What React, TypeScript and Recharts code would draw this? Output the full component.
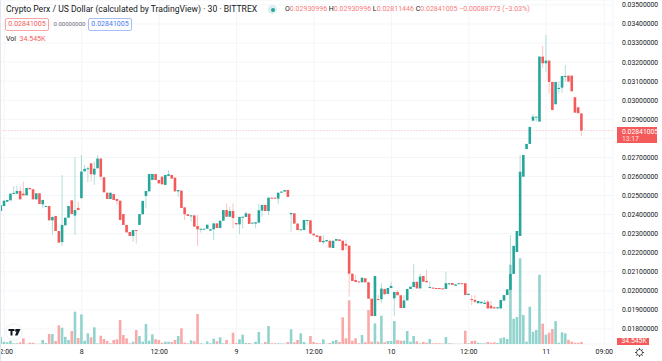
import { Bar, CartesianGrid, Cell, ComposedChart, ReferenceLine, XAxis, YAxis } from "recharts";

const UP = "#26a69a";
const DOWN = "#f55a5a";
const FONT = "Roboto, sans-serif";

const opens = [
  0.02419, 0.02445, 0.02468, 0.02475, 0.02508, 0.0251, 0.02524, 0.0251, 0.02501, 0.0254,
  0.02533, 0.0248, 0.02512, 0.02454, 0.0244, 0.02445, 0.0237, 0.02393, 0.02314, 0.02256,
  0.02344, 0.02384, 0.02475, 0.02395, 0.02435, 0.02486, 0.02627, 0.02638, 0.02669, 0.0261,
  0.02643, 0.02694, 0.02596, 0.02515, 0.02482, 0.02508, 0.02482, 0.02473, 0.02403, 0.02346,
  0.02309, 0.02288, 0.02319, 0.02346, 0.02402, 0.02498, 0.02522, 0.02582, 0.02613, 0.02582,
  0.02599, 0.02556, 0.02603, 0.02608, 0.02594, 0.02522, 0.02526, 0.02438, 0.02402, 0.02393,
  0.02396, 0.0234, 0.02321, 0.02321, 0.02326, 0.02316, 0.02323, 0.02354, 0.0233, 0.02368,
  0.02424, 0.02389, 0.02419, 0.02356, 0.02349, 0.02386, 0.02388, 0.02405, 0.02353, 0.02353,
  0.02358, 0.02421, 0.02451, 0.02419, 0.02489, 0.02489, 0.02484, 0.02515, 0.02521, 0.02529,
  0.02402, 0.02407, 0.02353, 0.02318, 0.02319, 0.02367, 0.0237, 0.023, 0.02291, 0.02288,
  0.02255, 0.0226, 0.02263, 0.02225, 0.02263, 0.0227, 0.02263, 0.02246, 0.02237, 0.0209,
  0.02057, 0.0205, 0.02045, 0.02066, 0.02045, 0.01959, 0.01868, 0.01957, 0.01956, 0.0201,
  0.01984, 0.02015, 0.01961, 0.01994, 0.01977, 0.0191, 0.0195, 0.0201, 0.0202, 0.02048,
  0.02013, 0.02078, 0.02052, 0.02015, 0.02017, 0.02015, 0.02015, 0.02013, 0.0201, 0.02034,
  0.02041, 0.02027, 0.02036, 0.0204, 0.0204, 0.01978, 0.01957, 0.01952, 0.01935, 0.01935,
  0.01931, 0.01943, 0.01922, 0.01914, 0.01908, 0.01908, 0.01949, 0.01978, 0.02005, 0.02089,
  0.02204, 0.02288, 0.02599, 0.02744, 0.02771, 0.02893, 0.02911, 0.02888, 0.03229, 0.03194,
  0.03208, 0.03096, 0.02979, 0.03059, 0.03066, 0.03124, 0.03129, 0.03129, 0.03016, 0.02963,
  0.02930996,
];
const highs = [
  0.02449, 0.02473, 0.02477, 0.0251, 0.0255, 0.0255, 0.02547, 0.02573, 0.0254, 0.0254,
  0.02533, 0.02512, 0.02512, 0.02477, 0.02445, 0.02445, 0.02388, 0.02393, 0.02314, 0.02608,
  0.02384, 0.02445, 0.02475, 0.02701, 0.02468, 0.02713, 0.0266, 0.02652, 0.02669, 0.02678,
  0.02713, 0.02695, 0.02596, 0.02515, 0.02515, 0.02508, 0.02482, 0.02473, 0.02403, 0.02346,
  0.02309, 0.02319, 0.02319, 0.02403, 0.02472, 0.02524, 0.02613, 0.02613, 0.02613, 0.02582,
  0.02599, 0.02608, 0.02634, 0.02608, 0.02594, 0.02529, 0.02526, 0.02438, 0.02402, 0.02396,
  0.02396, 0.02398, 0.02326, 0.02326, 0.02347, 0.02323, 0.02354, 0.02354, 0.02368, 0.02424,
  0.02459, 0.02442, 0.02459, 0.02356, 0.02388, 0.02389, 0.02416, 0.02405, 0.02358, 0.0236,
  0.02456, 0.02451, 0.02451, 0.02489, 0.02489, 0.02489, 0.02515, 0.02521, 0.02529, 0.02529,
  0.02409, 0.02407, 0.02353, 0.02323, 0.02372, 0.02372, 0.0237, 0.023, 0.02291, 0.02288,
  0.02293, 0.02267, 0.02263, 0.02263, 0.02272, 0.0227, 0.02263, 0.02267, 0.02237, 0.0209,
  0.02083, 0.0205, 0.02069, 0.02066, 0.02045, 0.01959, 0.02078, 0.01978, 0.0204, 0.0201,
  0.02015, 0.02048, 0.01994, 0.02001, 0.01977, 0.01978, 0.0201, 0.02022, 0.02141, 0.02048,
  0.02092, 0.02078, 0.0211, 0.02048, 0.02017, 0.02015, 0.02015, 0.02013, 0.02101, 0.0204,
  0.02041, 0.02034, 0.0204, 0.0204, 0.0204, 0.01985, 0.01978, 0.01978, 0.01947, 0.01943,
  0.01952, 0.01952, 0.01947, 0.01914, 0.01914, 0.01952, 0.01978, 0.02008, 0.02293, 0.02236,
  0.02314, 0.02713, 0.02713, 0.02771, 0.0286, 0.02927, 0.02914, 0.03229, 0.03285, 0.03343,
  0.03208, 0.03096, 0.03096, 0.03098, 0.03127, 0.03185, 0.03129, 0.03129, 0.03016, 0.02963,
  0.02930996,
];
const lows = [
  0.02416, 0.02445, 0.02468, 0.02475, 0.02508, 0.02507, 0.0248, 0.02501, 0.02501, 0.02533,
  0.0248, 0.0248, 0.02456, 0.02433, 0.0244, 0.0237, 0.02293, 0.02314, 0.02253, 0.02235,
  0.02344, 0.02384, 0.02403, 0.02293, 0.02424, 0.02486, 0.02626, 0.02568, 0.02573, 0.02556,
  0.02643, 0.02582, 0.02517, 0.02482, 0.02482, 0.02477, 0.02451, 0.02372, 0.02346, 0.02307,
  0.02288, 0.02258, 0.02249, 0.02346, 0.02402, 0.02433, 0.02522, 0.02582, 0.02582, 0.02564,
  0.02559, 0.02556, 0.02603, 0.02589, 0.02522, 0.02494, 0.02435, 0.02372, 0.02393, 0.02363,
  0.02337, 0.02235, 0.02305, 0.02321, 0.02326, 0.02316, 0.02267, 0.0233, 0.0233, 0.02368,
  0.02389, 0.02389, 0.02328, 0.02349, 0.02297, 0.02328, 0.02388, 0.02351, 0.02353, 0.02328,
  0.02358, 0.02389, 0.02419, 0.02398, 0.02484, 0.02484, 0.02454, 0.02515, 0.02521, 0.02493,
  0.02311, 0.02353, 0.02319, 0.02318, 0.02319, 0.02346, 0.023, 0.02291, 0.02283, 0.02256,
  0.02244, 0.0226, 0.02227, 0.02225, 0.02263, 0.02262, 0.02213, 0.02215, 0.0197, 0.02052,
  0.02047, 0.02045, 0.02045, 0.02045, 0.01959, 0.01868, 0.01868, 0.01952, 0.01935, 0.01982,
  0.01984, 0.02015, 0.0187, 0.01977, 0.0191, 0.0191, 0.0195, 0.0201, 0.0202, 0.02013,
  0.02013, 0.02048, 0.02045, 0.02015, 0.02013, 0.02012, 0.02012, 0.0201, 0.0201, 0.02034,
  0.02031, 0.02027, 0.02036, 0.02036, 0.01978, 0.01978, 0.01926, 0.01935, 0.01935, 0.01935,
  0.01931, 0.01908, 0.01908, 0.01908, 0.01908, 0.01908, 0.01949, 0.01978, 0.02005, 0.02089,
  0.02204, 0.02288, 0.02599, 0.02744, 0.02771, 0.02888, 0.02888, 0.02888, 0.03168, 0.0315,
  0.03037, 0.02949, 0.02979, 0.03037, 0.0304, 0.03098, 0.03098, 0.03047, 0.02935, 0.02932,
  0.02811446,
];
const closes = [
  0.02449, 0.02473, 0.02477, 0.0251, 0.02514, 0.02524, 0.0248, 0.02501, 0.0254, 0.02533,
  0.0248, 0.02512, 0.02456, 0.02477, 0.02445, 0.0237, 0.02388, 0.02314, 0.02253, 0.02346,
  0.02384, 0.02445, 0.02403, 0.02424, 0.02424, 0.02626, 0.0264, 0.02643, 0.02612, 0.02641,
  0.02694, 0.02599, 0.02517, 0.02482, 0.02515, 0.02477, 0.02472, 0.02372, 0.02346, 0.02307,
  0.02288, 0.02319, 0.02314, 0.02403, 0.02472, 0.02524, 0.02613, 0.02613, 0.02582, 0.02564,
  0.02559, 0.02608, 0.02612, 0.02589, 0.02522, 0.02529, 0.02435, 0.02402, 0.02393, 0.02396,
  0.02337, 0.02323, 0.02326, 0.02326, 0.02347, 0.02323, 0.02354, 0.0233, 0.02368, 0.02424,
  0.02389, 0.02419, 0.02382, 0.02349, 0.02388, 0.02389, 0.02407, 0.02351, 0.02358, 0.0236,
  0.02423, 0.02451, 0.02419, 0.02489, 0.02484, 0.02484, 0.02515, 0.02521, 0.02529, 0.02493,
  0.02409, 0.02353, 0.02319, 0.02323, 0.02372, 0.02372, 0.023, 0.02291, 0.02283, 0.02256,
  0.02262, 0.02267, 0.02227, 0.02263, 0.02272, 0.02262, 0.02213, 0.02237, 0.0209, 0.02052,
  0.02047, 0.02045, 0.02069, 0.02045, 0.01959, 0.01868, 0.02078, 0.01952, 0.02012, 0.01982,
  0.02015, 0.02026, 0.01994, 0.01977, 0.0191, 0.0195, 0.0201, 0.02022, 0.02047, 0.02013,
  0.02075, 0.02048, 0.02045, 0.0202, 0.02013, 0.02012, 0.02012, 0.0201, 0.0204, 0.0204,
  0.02031, 0.02034, 0.0204, 0.02036, 0.01978, 0.01985, 0.01952, 0.01943, 0.01947, 0.01943,
  0.01938, 0.01908, 0.01908, 0.01908, 0.01914, 0.01952, 0.01978, 0.02008, 0.02089, 0.02236,
  0.02314, 0.02625, 0.02713, 0.02771, 0.0286, 0.02914, 0.02914, 0.03229, 0.03194, 0.03208,
  0.03096, 0.02949, 0.03096, 0.03065, 0.03127, 0.03127, 0.03098, 0.03047, 0.02935, 0.02932,
  0.02841005,
];
// thousands
const volumes = [
  114, 39, 29, 56, 12, 12, 29, 97, 5, 22, 22, 5, 5, 68, 17, 170, 170, 51, 318, 277,
  124, 68, 221, 549, 102, 505, 56, 182, 114, 284, 12, 141, 85, 51, 12, 68, 80, 408, 153, 97,
  12, 39, 238, 136, 39, 340, 56, 165, 80, 68, 22, 39, 39, 34, 68, 136, 267, 22, 12, 63,
  46, 510, 12, 5, 46, 12, 90, 46, 114, 12, 68, 5, 192, 12, 80, 158, 17, 17, 5, 39,
  204, 5, 34, 306, 12, 12, 12, 8, 8, 34, 250, 29, 68, 182, 34, 5, 136, 34, 17, 12,
  80, 5, 17, 51, 68, 34, 454, 97, 743, 56, 97, 12, 153, 29, 578, 39, 352, 39, 481, 29,
  51, 51, 391, 68, 56, 56, 221, 39, 136, 46, 12, 34, 22, 85, 12, 12, 12, 8, 119, 12,
  8, 5, 5, 5, 226, 12, 51, 56, 22, 12, 12, 34, 22, 29, 17, 97, 114, 85, 1348, 430,
  459, 1457, 493, 39, 634, 209, 238, 1178, 345, 158, 192, 255, 391, 22, 199, 182, 73, 39, 22, 22,
  34.545,
];

const priceTicks = [
  0.018, 0.019, 0.02, 0.021, 0.022, 0.023, 0.024, 0.025, 0.026, 0.027, 0.028, 0.029, 0.03, 0.031,
  0.032, 0.033, 0.034, 0.035,
];
const timeTicks = [1, 25, 49, 73, 97, 121, 145, 169, 187];
const timeLabels = ["12:00", "8", "12:00", "9", "12:00", "10", "12:00", "11", "09:00"];
const lastClose = 0.02841005;

const rows = opens.map((open, i) => ({
  i,
  open,
  high: highs[i],
  low: lows[i],
  close: closes[i],
  volume: volumes[i],
}));

const Candle = (props: any) => {
  const { x, y, width, height, payload } = props;
  const top = Math.min(y, y + height);
  const h = Math.abs(height);
  const range = payload.high - payload.low || 1;
  const perUnit = h / range;
  const color = payload.close >= payload.open ? UP : DOWN;
  const bodyTop = top + (payload.high - Math.max(payload.open, payload.close)) * perUnit;
  const bodyH = Math.max(Math.abs(payload.close - payload.open) * perUnit, 1);
  const mid = x + width / 2;
  return (
    <g>
      <line x1={mid} x2={mid} y1={top} y2={top + h} stroke={color} strokeOpacity={0.4} strokeWidth={0.9} />
      <rect x={x} y={bodyTop} width={width} height={bodyH} fill={color} />
    </g>
  );
};

const txt: React.CSSProperties = { position: "absolute", whiteSpace: "nowrap", fontFamily: FONT, lineHeight: 1 };

const Gear = () => (
  <svg width={11} height={11} viewBox="0 0 24 24" style={{ position: "absolute", left: 633.5, top: 347 }}>
    <circle cx={12} cy={12} r={6.5} fill="none" stroke="#3a3e4a" strokeWidth={1.8} />
    <path
      d="M12 2v4M12 18v4M2 12h4M18 12h4M5 5l3 3M16 16l3 3M5 19l3-3M16 8l3-3"
      stroke="#3a3e4a"
      strokeWidth={2}
    />
  </svg>
);

const Logo = () => (
  <svg width={18} height={18} viewBox="0 0 36 36" style={{ position: "absolute", left: 4.5, top: 323 }}>
    <circle cx={18} cy={18} r={16.5} fill="#fff" stroke="#e8e9ee" strokeWidth={1.5} />
    <path d="M7 12h12v4h-4v9h-4v-9H7z M21 12h10l-6 13h-5l3-8h-3z" fill="#131722" />
  </svg>
);

export default function App() {
  return (
    <div style={{ position: "absolute", left: 0, top: 0, width: 662, height: 361, background: "#fff", overflow: "hidden" }}>
      <ComposedChart
        width={662}
        height={361}
        data={rows}
        margin={{ top: 0, right: 0, bottom: 0, left: 0 }}
      >
        <CartesianGrid xAxisId="time" yAxisId="price" stroke="#f4f5f8" strokeWidth={1} />
        <XAxis
          xAxisId="time"
          dataKey="i"
          type="number"
          domain={[-0.34, 189.7]}
          allowDataOverflow
          ticks={timeTicks}
          interval={0}
          height={17}
          tickLine={false}
          axisLine={false}
          tickMargin={5}
          tickSize={0}
          tick={{ fontSize: 7, fill: "#131722", fontFamily: FONT }}
          tickFormatter={(v: number) => timeLabels[timeTicks.indexOf(v)]}
        />
        <XAxis xAxisId="vol" dataKey="i" type="number" domain={[-0.34, 189.7]} allowDataOverflow hide height={17} />
        <YAxis
          yAxisId="price"
          orientation="right"
          width={49}
          domain={[0.017213, 0.035259]}
          allowDataOverflow
          ticks={priceTicks}
          interval={0}
          tickLine={false}
          axisLine={false}
          tickSize={0}
          tickMargin={9}
          tick={{ fontSize: 6.8, fill: "#131722", fontFamily: FONT, textAnchor: "start" }}
          tickFormatter={(v: number) => (v === lastTickHidden ? "" : v.toFixed(8))}
        />
        <YAxis yAxisId="vol" orientation="right" width={0} hide domain={[0, 5848]} allowDataOverflow />
        <Bar xAxisId="vol" yAxisId="vol" dataKey="volume" barSize={2.6} isAnimationActive={false}>
          {rows.map((r) => (
            <Cell key={r.i} fill={r.close >= r.open ? "#92d3cd" : "#faa9a9"} />
          ))}
        </Bar>
        <ReferenceLine
          xAxisId="time"
          yAxisId="price"
          y={lastClose}
          stroke="#ef5350"
          strokeOpacity={0.22}
          strokeDasharray="2 1"
        />
        <Bar
          xAxisId="time"
          yAxisId="price"
          dataKey={(d: any) => [d.low, d.high]}
          barSize={2.6}
          shape={Candle}
          isAnimationActive={false}
        />
      </ComposedChart>

      <div style={{ position: "absolute", left: 0, top: 0, width: 1, height: 361, background: "#e2e5ee" }} />

      <div style={{ ...txt, left: 6, top: 4.5, fontSize: 8.6, color: "#131722" }}>
        Crypto Perx / US Dollar (calculated by TradingView) · 30 · BITTREX
      </div>
      <div style={{ position: "absolute", left: 268, top: 5, width: 9, height: 9, borderRadius: 5, background: "#d9f0ee" }} />
      <div style={{ position: "absolute", left: 270.5, top: 7.5, width: 4, height: 4, borderRadius: 2, background: "#26a69a" }} />
      <div style={{ ...txt, left: 285, top: 5.5, fontSize: 7, color: "#f77c7c" }}>
        <span style={{ color: "#131722" }}>O</span>0.02930996 <span style={{ color: "#131722" }}>H</span>0.02930996{" "}
        <span style={{ color: "#131722" }}>L</span>0.02811446 <span style={{ color: "#131722" }}>C</span>0.02841005 −0.00088773 (−3.03%)
      </div>

      <div style={{ ...txt, left: 5, top: 17.5, width: 44, height: 13, boxSizing: "border-box", border: "1px solid #f9a5a5", borderRadius: 2, color: "#f55a5a", fontSize: 7, textAlign: "center", lineHeight: "11px" }}>
        0.02841005
      </div>
      <div style={{ ...txt, left: 53.5, top: 21, fontSize: 6, color: "#6a6d78" }}>0.00000000</div>
      <div style={{ ...txt, left: 88, top: 17.5, width: 44, height: 13, boxSizing: "border-box", border: "1px solid #a5bdfa", borderRadius: 2, color: "#4a7cf0", fontSize: 7, textAlign: "center", lineHeight: "11px" }}>
        0.02841005
      </div>
      <div style={{ ...txt, left: 6, top: 35.5, fontSize: 7, color: "#131722" }}>Vol</div>
      <div style={{ ...txt, left: 19.5, top: 35.5, fontSize: 7, color: "#f55a5a" }}>34.545K</div>

      <div style={{ position: "absolute", left: 617, top: 127, width: 40, height: 16, background: "#f55a5a" }} />
      <div style={{ ...txt, left: 622, top: 128.5, fontSize: 6.8, color: "#fff" }}>0.02841005</div>
      <div style={{ ...txt, left: 622, top: 136, fontSize: 6.8, color: "#fde0e0" }}>13:17</div>

      <div style={{ position: "absolute", left: 617, top: 338, width: 32, height: 7, background: "#f55a5a" }} />
      <div style={{ ...txt, left: 621.5, top: 338, fontSize: 6.8, color: "#fff" }}>34.545K</div>

      <Gear />
      <Logo />
    </div>
  );
}

// sits under the last-price tag, so its label is not drawn
const lastTickHidden = 0.028;
